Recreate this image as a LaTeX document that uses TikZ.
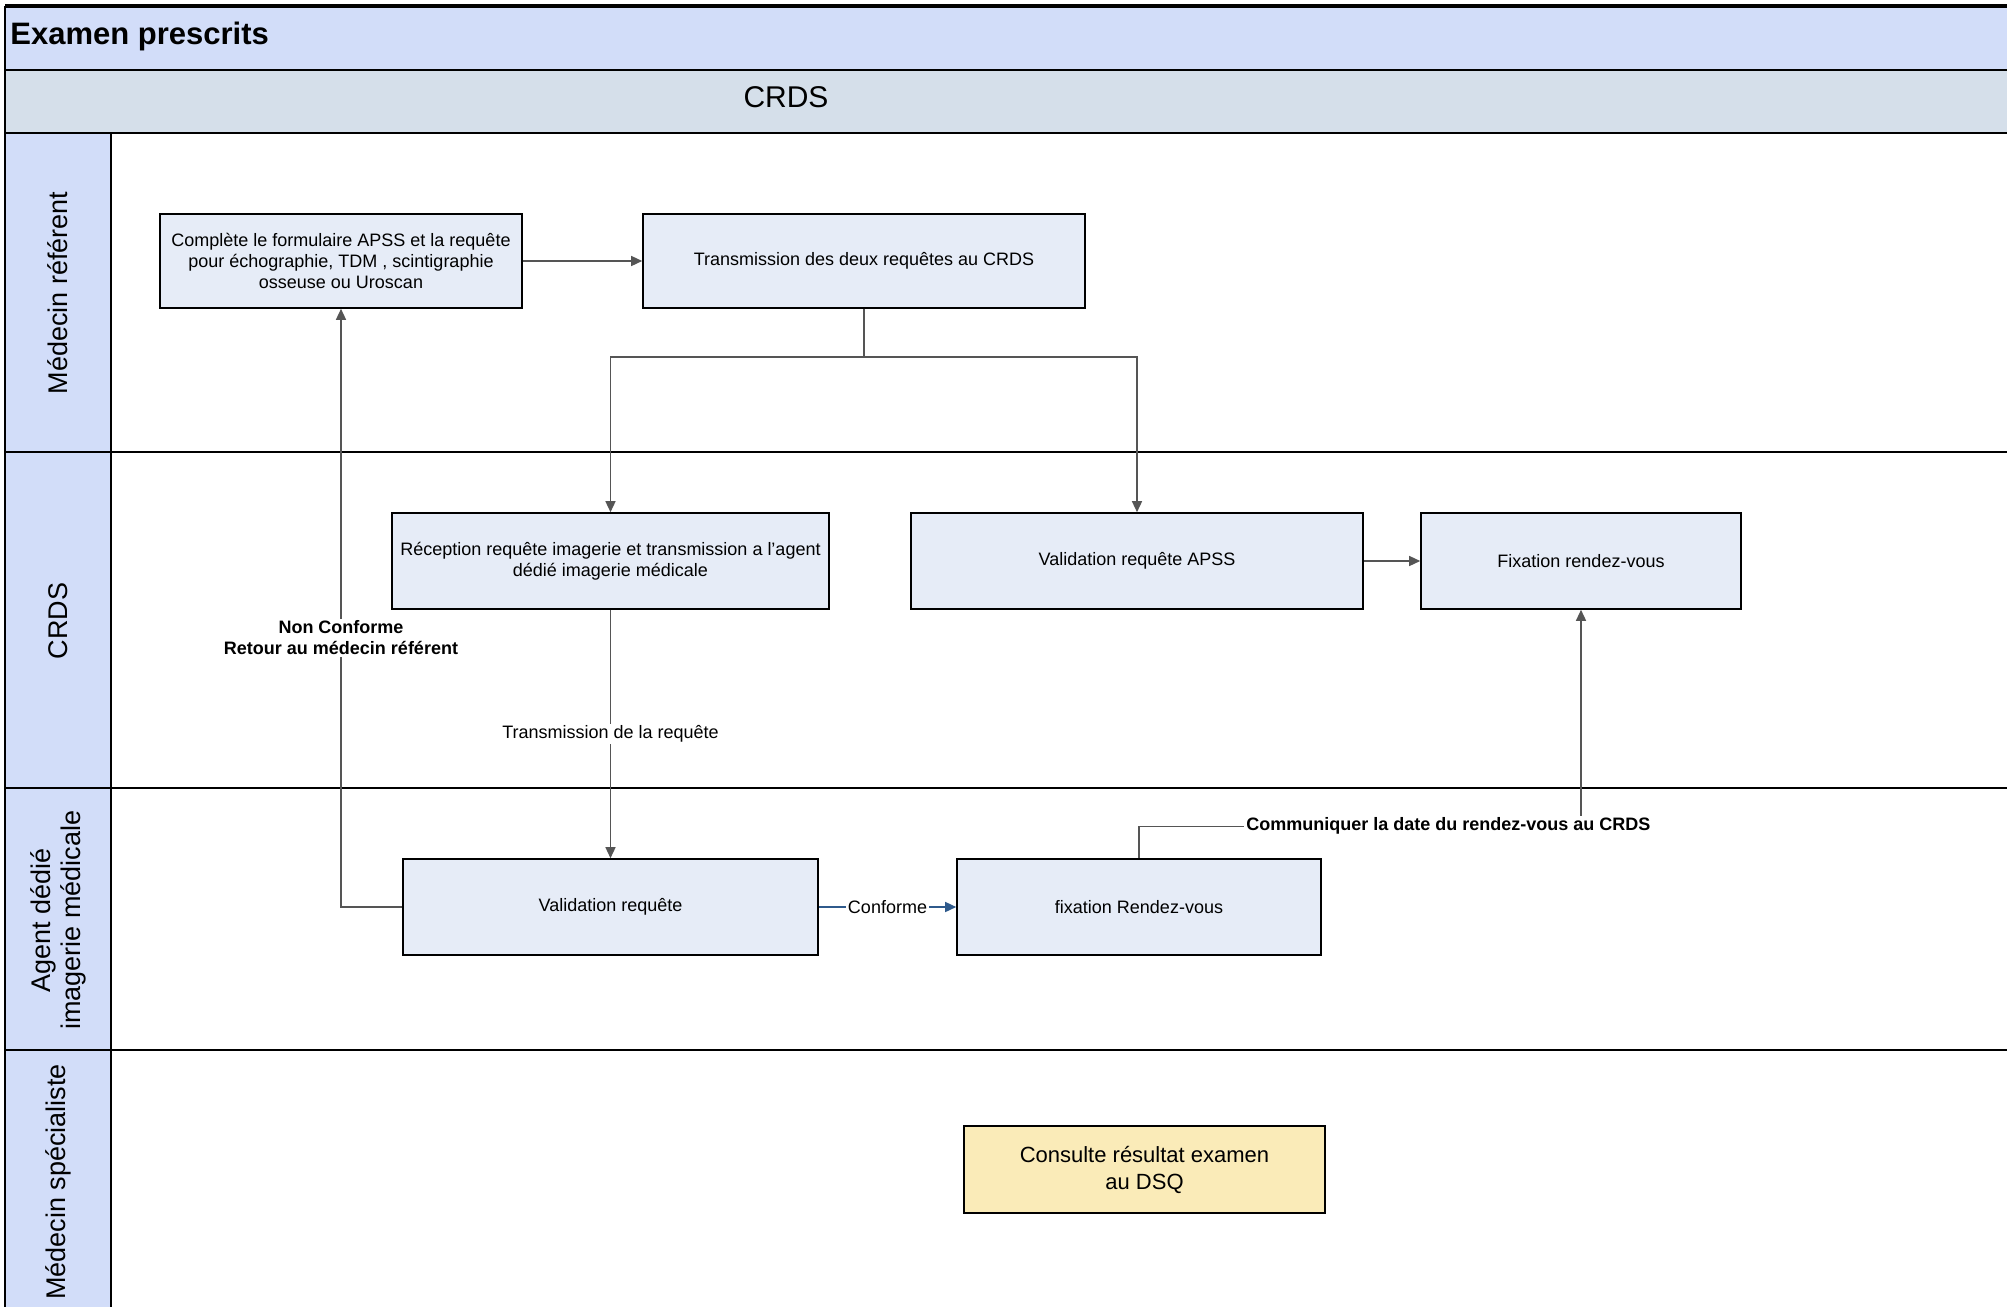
\documentclass[tikz,border=0pt]{standalone}
\usepackage{fontspec}
\setmainfont{Liberation Sans}
\usetikzlibrary{arrows.meta}
\definecolor{bandeau}{HTML}{D2DDF9}
\definecolor{bandcrds}{HTML}{D5DFEA}
\definecolor{tachebleu}{HTML}{E6ECF7}
\definecolor{tachejaune}{HTML}{FAEBB8}
\definecolor{trait}{HTML}{555555}
\definecolor{bleuconf}{HTML}{2F5A8C}

\begin{document}
\begin{tikzpicture}[x=0.5pt,y=-0.5pt,
  tache/.style = {draw, line width=0.8pt, fill=tachebleu, align=center, font=\fontsize{9}{10.5}\selectfont, inner sep=2pt},
  lien/.style = {draw=trait, line width=0.7pt, -{Triangle[length=5.5pt,width=5pt]}},
  libelle/.style = {fill=white, inner sep=1pt, align=center, font=\fontsize{9}{10.5}\selectfont},
  libgras/.style = {libelle, font=\fontsize{9}{10.5}\selectfont\bfseries},
  couloir/.style = {rotate=90, align=center, font=\fontsize{13.5}{15}\selectfont}]

  \useasboundingbox (0,0) rectangle (2007,1306);
  \fill[white] (0,0) rectangle (2007,1306);

  % bandeaux du haut
  \draw[fill=bandeau, line width=0.6pt] (5,7) rectangle (2012,70);
  \draw[fill=bandcrds, line width=0.6pt] (5,70) rectangle (2012,133);
  \draw[line width=2pt] (5,6) -- (2012,6);
  \node[anchor=west, inner sep=0pt, font=\fontsize{15.5}{18}\selectfont\bfseries] (titre) at (10,36) {Examen prescrits};
  \node[font=\fontsize{15}{17}\selectfont] (crds) at (786,97) {CRDS};

  % couloirs
  \draw[fill=bandeau, line width=0.6pt] (5,133) rectangle (111,1312);
  \draw[line width=0.6pt] (5,452) -- (2012,452);
  \draw[line width=0.6pt] (5,788) -- (2012,788);
  \draw[line width=0.6pt] (5,1050) -- (2012,1050);
  \node[couloir] (c1) at (58,293) {Médecin référent};
  \node[couloir] (c2) at (58,621) {CRDS};
  \node[couloir] (c3) at (58,920) {Agent dédié\\imagerie médicale};
  \node[couloir] (c4) at (58,1182) {Médecin spécialiste};

  % taches
  \node[tache, minimum width=181pt, minimum height=47pt] (1) at (341,261) {Complète le formulaire APSS et la requête\\pour échographie, TDM , scintigraphie\\osseuse ou Uroscan};
  \node[tache, minimum width=221pt, minimum height=47pt] (2) at (864,261) {Transmission des deux requêtes au CRDS};
  \node[tache, minimum width=218.5pt, minimum height=48pt] (3) at (610.5,561) {Réception requête imagerie et transmission a l'agent\\dédié imagerie médicale};
  \node[tache, minimum width=226pt, minimum height=48pt] (4) at (1137,561) {Validation requête APSS};
  \node[tache, minimum width=160pt, minimum height=48pt] (5) at (1581,561) {Fixation rendez-vous};
  \node[tache, minimum width=207.5pt, minimum height=48pt] (6) at (610.5,907) {Validation requête};
  \node[tache, minimum width=182pt, minimum height=48pt] (7) at (1139,907) {fixation Rendez-vous};
  \node[tache, fill=tachejaune, font=\fontsize{11}{13.5}\selectfont, minimum width=180.5pt, minimum height=43.5pt] (8) at (1144.5,1169.5) {Consulte résultat examen\\au DSQ};

  % liens
  \draw[lien] (1) -- (2);
  \draw[lien] (2.south) -- ++(0,48) -| (3.north);
  \draw[lien] (2.south) -- ++(0,48) -| (4.north);
  \draw[lien] (4) -- (5);
  \draw[lien] (3) -- node[libelle] {Transmission de la requête} (6);
  \draw[lien] (6.west) -| node[libgras, pos=0.725] {Non Conforme\\Retour au médecin référent} (1.south);
  \draw[lien, draw=bleuconf] (6) -- node[libelle] {Conforme} (7);
  \draw[lien] (7.north) -- ++(0,-32) -| node[libgras, pos=0.35] {Communiquer la date du rendez-vous au CRDS} (5.south);
\end{tikzpicture}
\end{document}
